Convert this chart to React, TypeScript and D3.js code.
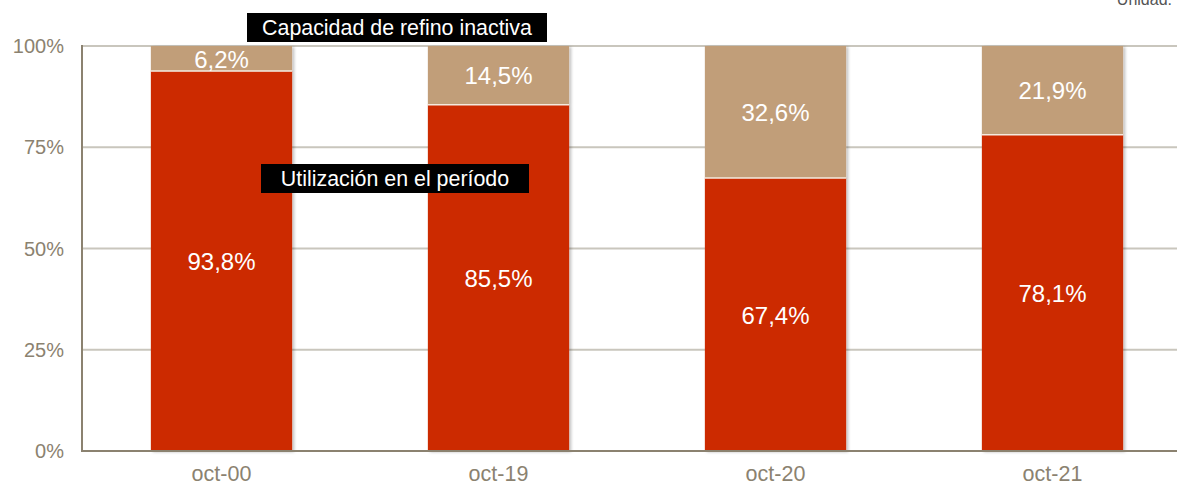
import * as d3 from "d3";
import { useEffect, useRef } from "react";

const categories = ["oct-00", "oct-19", "oct-20", "oct-21"];
const utilizacion = [93.8, 85.5, 67.4, 78.1];
const inactiva = [6.2, 14.5, 32.6, 21.9];
const yTicks = [0, 25, 50, 75, 100];

const fmt = (v: number) => v.toFixed(1).replace(".", ",") + "%";

export default function App() {
    const svgRef = useRef<SVGSVGElement | null>(null);

    useEffect(() => {
        if (!svgRef.current) return;
        const svg = d3.select(svgRef.current);
        svg.selectAll("*").remove();

        const width = 1177;
        const height = 484;
        const font = "'Liberation Sans', Arial, sans-serif";

        const x = d3.scaleBand<string>()
            .domain(categories)
            .range([83, 1191])
            .paddingInner(0.49)
            .paddingOuter(0.245);

        const y = d3.scaleLinear().domain([0, 100]).range([451, 46]);

        svg.attr("width", width).attr("height", height);

        const defs = svg.append("defs");
        const f = defs.append("filter").attr("id", "sh").attr("x", "-10%").attr("y", "-10%").attr("width", "120%").attr("height", "120%");
        f.append("feDropShadow").attr("dx", 2).attr("dy", 1).attr("stdDeviation", 1.5)
            .attr("flood-color", "#000").attr("flood-opacity", 0.25);

        // gridlines
        svg.append("g")
            .selectAll("line")
            .data(yTicks.filter((t) => t > 0))
            .enter()
            .append("line")
            .attr("x1", 83)
            .attr("x2", width)
            .attr("y1", (d) => y(d))
            .attr("y2", (d) => y(d))
            .attr("stroke", "#c9c6bd")
            .attr("stroke-width", 2);

        // tick labels
        svg.append("g")
            .selectAll("text")
            .data(yTicks)
            .enter()
            .append("text")
            .attr("x", 64)
            .attr("y", (d) => y(d) + 7)
            .attr("text-anchor", "end")
            .attr("fill", "#8b8270")
            .style("font-family", font)
            .style("font-size", "20px")
            .text((d) => d + "%");

        // bars
        const g = svg.append("g").attr("filter", "url(#sh)");
        g.selectAll("rect.u")
            .data(categories)
            .enter()
            .append("rect")
            .attr("class", "u")
            .attr("x", (d) => x(d)!)
            .attr("width", x.bandwidth())
            .attr("y", (_, i) => y(utilizacion[i]))
            .attr("height", (_, i) => y(0) - y(utilizacion[i]))
            .attr("fill", "#cc2c00");
        g.selectAll("rect.i")
            .data(categories)
            .enter()
            .append("rect")
            .attr("class", "i")
            .attr("x", (d) => x(d)!)
            .attr("width", x.bandwidth())
            .attr("y", (_, i) => y(utilizacion[i] + inactiva[i]))
            .attr("height", (_, i) => y(utilizacion[i]) - y(utilizacion[i] + inactiva[i]))
            .attr("fill", "#c19e79");
        // separators
        svg.append("g")
            .selectAll("line")
            .data(categories)
            .enter()
            .append("line")
            .attr("x1", (d) => x(d)!)
            .attr("x2", (d) => x(d)! + x.bandwidth())
            .attr("y1", (_, i) => y(utilizacion[i]))
            .attr("y2", (_, i) => y(utilizacion[i]))
            .attr("stroke", "#f3eadf")
            .attr("stroke-width", 1.5);

        // value labels
        svg.append("g")
            .selectAll("text")
            .data(categories)
            .enter()
            .append("text")
            .attr("x", (d) => x(d)! + x.bandwidth() / 2)
            .attr("y", (_, i) => y(utilizacion[i] / 2) + 9)
            .attr("text-anchor", "middle")
            .attr("fill", "#fff")
            .style("font-family", font)
            .style("font-size", "24px")
            .text((_, i) => fmt(utilizacion[i]));
        svg.append("g")
            .selectAll("text")
            .data(categories)
            .enter()
            .append("text")
            .attr("x", (d) => x(d)! + x.bandwidth() / 2)
            .attr("y", (_, i) => y(utilizacion[i] + inactiva[i] / 2) + 9)
            .attr("text-anchor", "middle")
            .attr("fill", "#fff")
            .style("font-family", font)
            .style("font-size", "24px")
            .text((_, i) => fmt(inactiva[i]));

        // axes
        svg.append("line")
            .attr("x1", 82).attr("x2", 82).attr("y1", 45).attr("y2", 452)
            .attr("stroke", "#8b8270").attr("stroke-width", 2);
        svg.append("line")
            .attr("x1", 81).attr("x2", width).attr("y1", y(0)).attr("y2", y(0))
            .attr("stroke", "#8b8270").attr("stroke-width", 2);

        // category labels
        svg.append("g")
            .selectAll("text")
            .data(categories)
            .enter()
            .append("text")
            .attr("x", (d) => x(d)! + x.bandwidth() / 2)
            .attr("y", 481)
            .attr("text-anchor", "middle")
            .attr("fill", "#8b8270")
            .style("font-family", font)
            .style("font-size", "21.5px")
            .text((d) => d);

        // legend boxes
        const boxes = [
            { text: "Capacidad de refino inactiva", x: 247, y: 13, w: 300, h: 29 },
            { text: "Utilización en el período", x: 261, y: 164, w: 268, h: 29 },
        ];
        boxes.forEach((b) => {
            svg.append("rect").attr("x", b.x).attr("y", b.y).attr("width", b.w).attr("height", b.h).attr("fill", "#000");
            svg.append("text")
                .attr("x", b.x + b.w / 2)
                .attr("y", b.y + b.h / 2 + 7.5)
                .attr("text-anchor", "middle")
                .attr("fill", "#fff")
                .style("font-family", font)
                .style("font-size", "21.4px")
                .text(b.text);
        });

        svg.append("text")
            .attr("x", 1172)
            .attr("y", 5)
            .attr("text-anchor", "end")
            .attr("fill", "#555")
            .style("font-family", font)
            .style("font-size", "16px")
            .text("Unidad:");
    }, []);

    return <svg ref={svgRef} style={{ position: "absolute", left: 0, top: 0 }} />;
}
